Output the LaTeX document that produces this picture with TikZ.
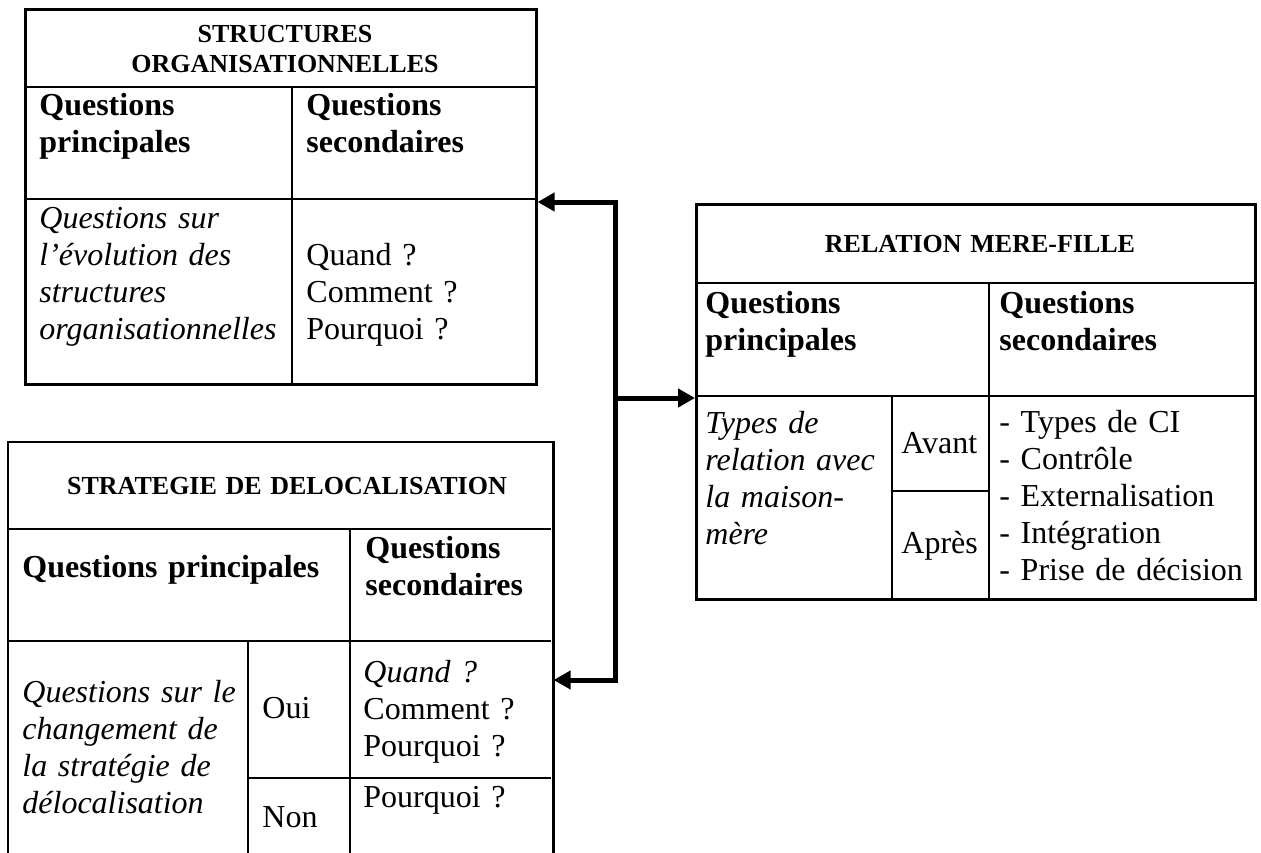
\documentclass[tikz,border=0pt]{standalone}
\usepackage{fontspec}
\setmainfont{Liberation Serif}
\usetikzlibrary{arrows.meta}

\tikzset{
  rule/.style={line width=1.3pt},
  tablebox/.style={rectangle, draw, rule, inner sep=0pt, anchor=north west},
  cell/.style={anchor=base west, inner sep=0pt, align=left, text width=#1,
    font=\fontsize{16pt}{18.5pt}\selectfont},
  cell/.default=120pt,
  hdr/.style={cell=#1, font=\fontsize{16pt}{18.5pt}\selectfont\bfseries},
  hdr/.default=120pt,
  itc/.style={cell=#1, font=\fontsize{16pt}{18.5pt}\selectfont\itshape},
  itc/.default=120pt,
  ttl/.style={anchor=base, inner sep=0pt, align=center, text width=#1,
    font=\fontsize{13pt}{15pt}\selectfont\bfseries},
  ttl/.default=250pt,
  link/.style={line width=2.5pt, line join=miter},
  linkarrow/.style={link, -{Triangle[length=8.5pt,width=9pt]}},
}

\begin{document}
\begin{tikzpicture}[x=0.5pt,y=-0.5pt]
\useasboundingbox (0,0) rectangle (1261,852);
\clip (0,0) rectangle (1261,852);

% ---------- Structures organisationnelles ----------
\node[tablebox, minimum width=255.5pt, minimum height=187.5pt] (t1) at (24,8) {};
\draw[rule] (24,87) -- (535,87);
\draw[rule] (24,199) -- (535,199);
\draw[rule] (292,87) -- (292,383);
\node[ttl=250pt] (t1title) at (285,42) {STRUCTURES\\ORGANISATIONNELLES};
\node[hdr=126pt] (t1h1) at (39,115) {Questions\\principales};
\node[hdr=114pt] (t1h2) at (306,115) {Questions\\secondaires};
\node[itc=126pt] (t1q) at (39,228) {Questions sur\\l’évolution des\\structures\\organisationnelles};
\node[cell=114pt] (t1a) at (306,265) {Quand ?\\Comment ?\\Pourquoi ?};

% ---------- Strategie de delocalisation (runs past the lower edge) ----------
\node[tablebox, draw=none, minimum width=271.5pt, minimum height=215pt] (t2) at (8,442) {};
\draw[rule] (t2.south west) -- (t2.north west) -- (t2.north east) -- (t2.south east);
\draw[rule] (8,529) -- (551,529);
\draw[rule] (8,641) -- (551,641);
\draw[rule] (350,529) -- (350,880);
\draw[rule] (248,641) -- (248,880);
\draw[rule] (248,778) -- (551,778);
\node[ttl=265pt] (t2title) at (287,494) {STRATEGIE DE DELOCALISATION};
\node[hdr=164pt] (t2h1) at (22,577) {Questions principales};
\node[hdr=94pt] (t2h2) at (365,558) {Questions\\secondaires};
\node[itc=113pt] (t2q) at (22,702) {Questions sur le\\changement de\\la stratégie de\\délocalisation};
\node[cell=44pt] (t2oui) at (262,718) {Oui};
\node[cell=44pt] (t2non) at (262,827) {Non};
\node[cell=94pt] (t2a) at (363,682) {\textit{Quand ?}\\Comment ?\\Pourquoi ?};
\node[cell=94pt] (t2b) at (363,807) {Pourquoi ?};

% ---------- Relation mere-fille ----------
\node[tablebox, minimum width=279.5pt, minimum height=197.5pt] (t3) at (695,203) {};
\draw[rule] (695,283) -- (1254,283);
\draw[rule] (695,396) -- (1254,396);
\draw[rule] (989,283) -- (989,598);
\draw[rule] (892,396) -- (892,598);
\draw[rule] (892,491) -- (989,491);
\node[ttl=270pt] (t3title) at (980,252) {RELATION MERE-FILLE};
\node[hdr=93pt] (t3h1) at (705,313) {Questions\\principales};
\node[hdr=127pt] (t3h2) at (999,313) {Questions\\secondaires};
\node[itc=93pt] (t3q) at (705,433) {Types de\\relation avec\\la maison-\\mère};
\node[cell=44pt] (t3av) at (901,453) {Avant};
\node[cell=44pt] (t3ap) at (901,553) {Après};
\node[cell=127pt] (t3a) at (999,432) {- Types de CI\\- Contrôle\\- Externalisation\\- Intégration\\- Prise de décision};

% ---------- Connectors ----------
\coordinate (spinetop) at (615,202);
\coordinate (spinemid) at (615,398);
\coordinate (spinebot) at (615,680);
\draw[linkarrow] (spinemid) -- (spinetop) -- (spinetop -| t1.east);
\draw[linkarrow] (spinemid) -- (spinebot) -- (spinebot -| t2.east);
\draw[linkarrow] (spinemid) -- (spinemid -| t3.west);
\end{tikzpicture}
\end{document}
